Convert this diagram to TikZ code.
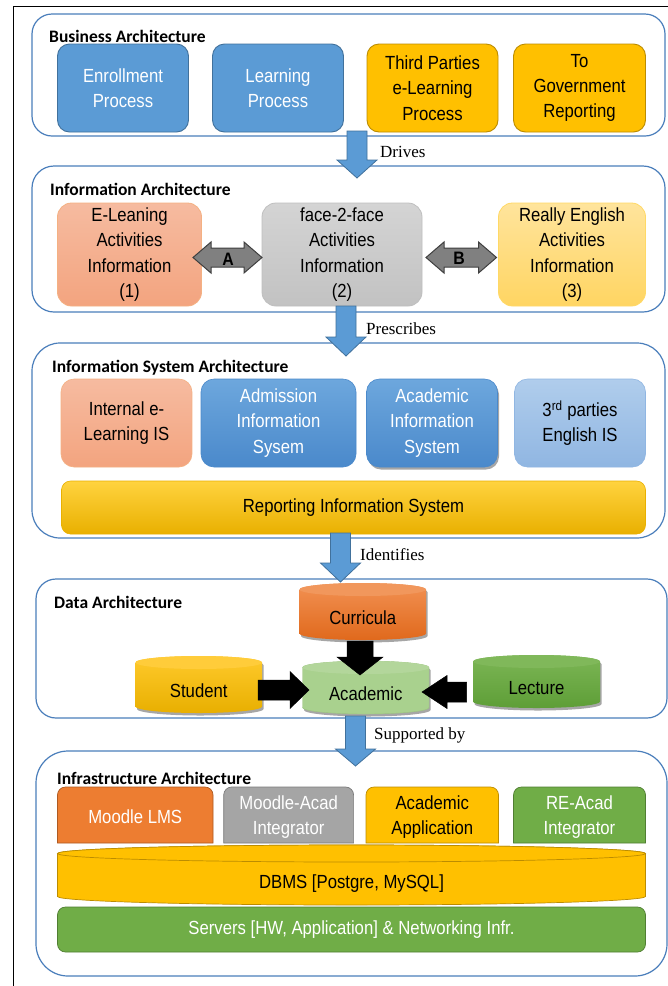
\documentclass[tikz,border=0pt]{standalone}
\usepackage{fontspec}
\setmainfont{Liberation Sans}[FakeStretch=0.88]
\newfontfamily\titlefont{Carlito}
\newfontfamily\labelfont{Liberation Serif}
\usetikzlibrary{shadows}

\definecolor{secline}{HTML}{4A7EBB}
\definecolor{pblue}{HTML}{5B9BD5}
\definecolor{blueedge}{HTML}{41719C}
\definecolor{pgold}{HTML}{FFC000}
\definecolor{goldedge}{HTML}{BC8C00}
\definecolor{salT}{HTML}{F6BBA0}
\definecolor{salB}{HTML}{F3A47F}
\definecolor{saledge}{HTML}{F4B183}
\definecolor{gryT}{HTML}{D4D4D4}
\definecolor{gryB}{HTML}{C2C2C2}
\definecolor{gryedge}{HTML}{BFBFBF}
\definecolor{yelT}{HTML}{FFE49C}
\definecolor{yelB}{HTML}{FFD562}
\definecolor{yeledge}{HTML}{FFD966}
\definecolor{isbT}{HTML}{6DA7DD}
\definecolor{isbB}{HTML}{4A89CB}
\definecolor{lbT}{HTML}{B0CDEC}
\definecolor{lbB}{HTML}{90B6E2}
\definecolor{repT}{HTML}{FFD33F}
\definecolor{repM}{HTML}{FFC000}
\definecolor{repB}{HTML}{E9B000}
\definecolor{curT}{HTML}{F29153}
\definecolor{curB}{HTML}{E0691C}
\definecolor{curTop}{HTML}{F1975C}
\definecolor{stuT}{HTML}{FFCA2C}
\definecolor{stuB}{HTML}{E8AF00}
\definecolor{stuTop}{HTML}{FFCC3A}
\definecolor{acad}{HTML}{A9D18E}
\definecolor{acadTop}{HTML}{B3D69B}
\definecolor{acadedge}{HTML}{9CC47F}
\definecolor{lecT}{HTML}{7CB655}
\definecolor{lecB}{HTML}{5E9E37}
\definecolor{lecTop}{HTML}{80B85A}
\definecolor{porange}{HTML}{ED7D31}
\definecolor{orangeedge}{HTML}{AE5A21}
\definecolor{pgrey}{HTML}{A5A5A5}
\definecolor{greyedge}{HTML}{7B7B7B}
\definecolor{pgreen}{HTML}{70AD47}
\definecolor{greenedge}{HTML}{507E32}
\definecolor{dblfill}{HTML}{808080}
\definecolor{dbledge}{HTML}{3F3F3F}

\newcommand\cylshape[8]{%
 \pgfmathsetmacro\cylcx{(#1+#2)/2}%
 \pgfmathsetmacro\cylrx{(#2-#1)/2}%
 \path[#6] (#1,#3+#5) -- (#1,#4-#5) arc[start angle=180,end angle=0,x radius=\cylrx,y radius=#5] -- (#2,#3+#5) arc[start angle=0,end angle=-180,x radius=\cylrx,y radius=#5] -- cycle;
 \path[#7] (\cylcx,#3+#5) ellipse[x radius=\cylrx,y radius=#5];
 \node[box] (#8) at (\cylcx,{(#3+2*#5+#4)/2}) {\strut};
}
\newcommand\topbox[7]{%
 \path[#5] (#1,#4) -- (#1,#3+8) arc[start angle=180,end angle=270,radius=8] -- (#2-8,#3) arc[start angle=270,end angle=360,radius=8] -- (#2,#4) -- cycle;
 \node[box,#6] at ({(#1+#2)/2},{(#3+#4)/2+2}) {#7};
}
\newcommand\blockdown[4]{%
 \draw[barrow] (#1-10,#2) -- (#1+10,#2) -- (#1+10,#3) -- (#1+20,#3) -- (#1,#4) -- (#1-20,#3) -- (#1-10,#3) -- cycle;
}
\newcommand\dblarrow[3]{%
 \draw[dbl] (#1,#3) -- (#1+18,#3-15.5) -- (#1+18,#3-9.5) -- (#2-18,#3-9.5) -- (#2-18,#3-15.5) -- (#2,#3) -- (#2-18,#3+15.5) -- (#2-18,#3+9.5) -- (#1+18,#3+9.5) -- (#1+18,#3+15.5) -- cycle;
}

\begin{document}
\begin{tikzpicture}[x=1pt,y=-1pt,
 sec/.style={draw=secline, line width=1.2pt, fill=white, inner sep=0},
 ttl/.style={anchor=west, font=\titlefont\bfseries\fontsize{17.5}{20}\selectfont, inner sep=0},
 box/.style={inner sep=0, align=center, font=\fontsize{19}{25.3}\selectfont},
 lbl/.style={anchor=west, font=\labelfont\fontsize{17}{20}\selectfont, inner sep=0},
 barrow/.style={fill=pblue, draw=blueedge, line width=0.8pt},
 dbl/.style={fill=dblfill, draw=dbledge, line width=1pt},
 blk/.style={fill=black, draw=black, line width=0.5pt},
 shad/.style={drop shadow={shadow xshift=1.5pt, shadow yshift=-2.5pt, opacity=0.35, fill=black}},
]
\useasboundingbox (0,0) rectangle (668,986);
\fill[white] (0,0) rectangle (668,986);
\draw[line width=1.3pt] (13.5,986) -- (13.5,6.5) -- (668,6.5);

% ---------- sections ----------
\node[sec, rounded corners=20, minimum width=633, minimum height=122] (bus) at (348.5,75) {};
\node[sec, rounded corners=22, minimum width=633, minimum height=146] (inf) at (348.5,239) {};
\node[sec, rounded corners=28, minimum width=633, minimum height=195] (isa) at (348.5,440.5) {};
\node[sec, rounded corners=20, minimum width=631, minimum height=139] (dat) at (351.5,648.5) {};
\node[sec, rounded corners=32, minimum width=631, minimum height=225] (ifa) at (351.5,863.5) {};

\node[ttl] (busT) at (49,36) {Business Architecture};
\node[ttl] (infT) at (50,189) {Information Architecture};
\node[ttl] (isaT) at (52,368) {Information System Architecture};
\node[ttl] (datT) at (54,602) {Data Architecture};
\node[ttl] (ifaT) at (57,778) {Infrastructure Architecture};

% ---------- business ----------
\node[box, rounded corners=12, draw=blueedge, line width=0.9pt, fill=pblue, text=white, minimum width=131, minimum height=88] (enr) at (123,88) {Enrollment\\Process};
\node[box, rounded corners=12, draw=blueedge, line width=0.9pt, fill=pblue, text=white, minimum width=131, minimum height=88] (lrn) at (278,88) {Learning\\Process};
\node[box, rounded corners=12, draw=goldedge, line width=0.9pt, fill=pgold, minimum width=131, minimum height=88] (thd) at (432.5,88) {Third Parties\\e-Learning\\Process};
\node[box, rounded corners=12, draw=goldedge, line width=0.9pt, fill=pgold, minimum width=132, minimum height=88] (gov) at (579.5,88) {To\\Government\\Reporting};

% ---------- information ----------
\node[box, rounded corners=14, draw=saledge, line width=0.8pt, top color=salT, bottom color=salB, minimum width=144, minimum height=103] (elr) at (129.5,254.5) {E-Leaning\\Activities\\Information\\(1)};
\node[box, rounded corners=14, draw=gryedge, line width=0.8pt, top color=gryT, bottom color=gryB, minimum width=160, minimum height=103] (ftf) at (342,254.5) {face-2-face\\Activities\\Information\\(2)};
\node[box, rounded corners=14, draw=yeledge, line width=0.8pt, top color=yelT, bottom color=yelB, minimum width=147, minimum height=103] (rea) at (572,254.5) {Really English\\Activities\\Information\\(3)};

\dblarrow{193}{262}{257.5}
\dblarrow{426}{496.5}{257.5}
\node[font=\bfseries\fontsize{18}{20}\selectfont, inner sep=0] (lA) at (228,259) {A};
\node[font=\bfseries\fontsize{18}{20}\selectfont, inner sep=0] (lB) at (459,258) {B};

% ---------- information system ----------
\node[box, rounded corners=13, draw=saledge, line width=0.6pt, top color=salT, bottom color=salB, minimum width=131, minimum height=88] (iel) at (126.5,423) {Internal e-\\Learning IS};
\node[box, rounded corners=13, draw=isbB, line width=0.6pt, top color=isbT, bottom color=isbB, text=white, minimum width=155, minimum height=88] (adm) at (278.5,423) {Admission\\Information\\Sysem};
\node[box, rounded corners=13, draw=isbB, line width=0.6pt, top color=isbT, bottom color=isbB, text=white, minimum width=131, minimum height=88, shad] (ais) at (432,423) {Academic\\Information\\System};
\node[box, rounded corners=13, draw=lbB, line width=0.6pt, top color=lbT, bottom color=lbB, minimum width=131, minimum height=88] (tis) at (580,423) {3\textsuperscript{rd} parties\\English IS};
\node[box, rounded corners=9, draw=repB, line width=0.6pt, top color=repT, middle color=repM, bottom color=repB, minimum width=584, minimum height=53] (ris) at (353.5,507.5) {Reporting Information System};

% ---------- data ----------
\cylshape{299.5}{426}{583}{640}{6.5}{shad, top color=curT, bottom color=curB}{fill=curTop}{cur}
\node[box] at (cur) {Curricula};
\cylshape{135.5}{262}{656}{713}{6.5}{shad, top color=stuT, bottom color=stuB}{fill=stuTop}{stu}
\node[box] at (stu) {Student};
\cylshape{302.5}{429}{661}{714}{6.5}{shad, fill=acad, draw=acadedge, line width=0.4pt}{fill=acadTop}{aca}
\node[box] at (aca) {Academic};
\cylshape{473}{600}{655}{708}{6.5}{shad, top color=lecT, bottom color=lecB}{fill=lecTop}{lec}
\node[box] at (lec) {Lecture};

% black arrows
\draw[blk] (347,641) -- (373,641) -- (373,657) -- (383,657) -- (360,675) -- (337,657) -- (347,657) -- cycle;
\draw[blk] (258,680) -- (290,680) -- (290,671.5) -- (309,690) -- (290,708.5) -- (290,700) -- (258,700) -- cycle;
\draw[blk] (466.5,682) -- (447,682) -- (447,675.5) -- (422,692) -- (447,708.5) -- (447,702) -- (466.5,702) -- cycle;

% ---------- infrastructure ----------
\topbox{57.5}{213}{787}{843}{fill=porange, draw=orangeedge, line width=0.7pt}{text=white}{Moodle LMS}
\topbox{223.7}{353.6}{787}{843}{fill=pgrey, draw=greyedge, line width=0.7pt}{text=white}{Moodle-Acad\\Integrator}
\topbox{366}{498.5}{787}{843}{fill=pgold, draw=goldedge, line width=0.7pt}{}{Academic\\Application}
\topbox{513.5}{645.5}{787}{843}{fill=pgreen, draw=greenedge, line width=0.7pt}{text=white}{RE-Acad\\Integrator}
\cylshape{57.5}{645.5}{845}{905}{8.5}{fill=pgold, draw=goldedge, line width=0.7pt}{fill=pgold, draw=goldedge, line width=0.7pt}{dbms}
\node[box] at (dbms) {DBMS [Postgre, MySQL]};
\node[box, rounded corners=8, draw=greenedge, line width=0.7pt, fill=pgreen, text=white, minimum width=588, minimum height=45] (srv) at (351.5,929.5) {Servers [HW, Application] \& Networking Infr.};

% ---------- blue block arrows ----------
\blockdown{357}{131}{160}{178}
\blockdown{346}{306}{337}{356}
\blockdown{340.5}{533}{563}{582}
\blockdown{355.5}{716}{749}{766}
\node[lbl] (lDr) at (380,152) {Drives};
\node[lbl] (lPr) at (366,329) {Prescribes};
\node[lbl] (lId) at (360,555) {Identifies};
\node[lbl] (lSu) at (374,735) {Supported by};
\end{tikzpicture}
\end{document}
